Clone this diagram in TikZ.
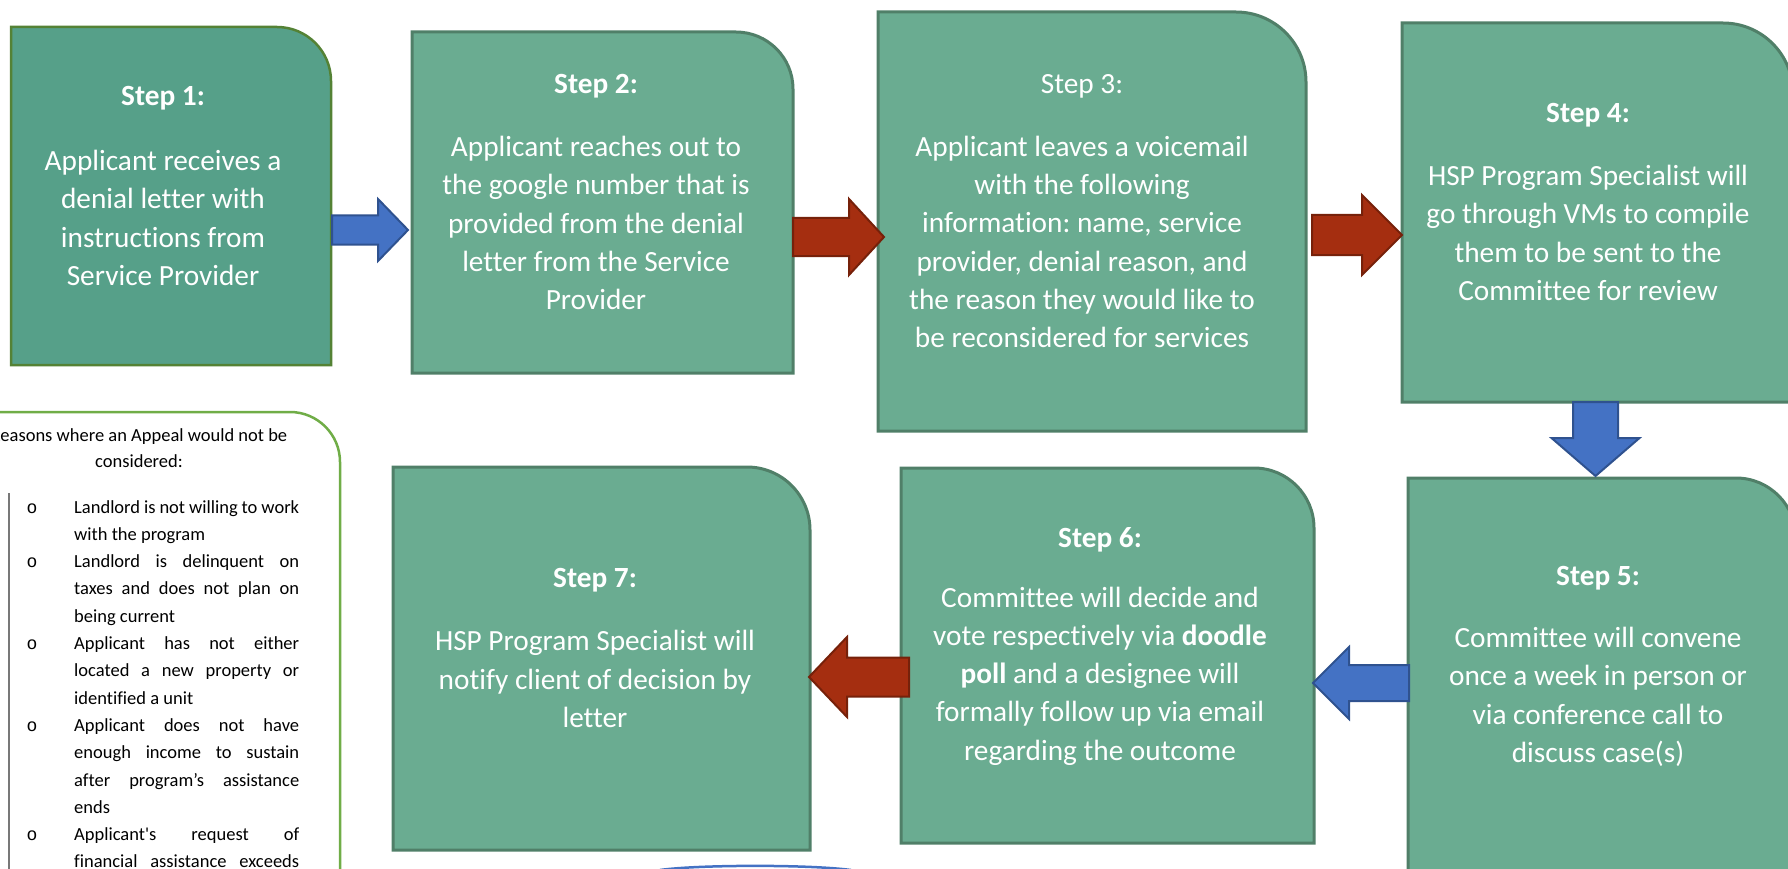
\documentclass[tikz,border=0pt]{standalone}
\usepackage{fontspec}
\setmainfont{Carlito}[Ligatures={TeX,NoCommon,NoRare,NoContextual}, RawFeature={-liga;-clig;-calt;-dlig}]
\newfontfamily\myMono{Liberation Mono}
\frenchspacing
\definecolor{stepfill}{RGB}{106,172,145}
\definecolor{stepline}{RGB}{80,127,104}
\definecolor{firstfill}{RGB}{86,160,137}
\definecolor{firstline}{RGB}{84,130,53}
\definecolor{arrblue}{RGB}{68,114,196}
\definecolor{arrblueline}{RGB}{47,82,143}
\definecolor{arrred}{RGB}{165,46,16}
\definecolor{arrredline}{RGB}{118,33,10}
\definecolor{reasongreen}{RGB}{112,173,71}
\definecolor{ruleGray}{RGB}{120,120,120}
% box with only the top-right corner rounded: #1 name, #2 style, #3 L, #4 T, #5 R, #6 B, #7 radius
\newcommand{\myBox}[7]{%
  \path[#2] (#3,#4) -- ({#5-#7},#4) .. controls ({#5-0.4477*#7},#4) and (#5,{#4+0.4477*#7}) .. (#5,{#4+#7}) -- (#5,#6) -- (#3,#6) -- cycle;
  \coordinate (#1) at ({(#3+#5)/2},{(#4+#6)/2});
  \coordinate (#1-w) at (#3,{(#4+#6)/2});
  \coordinate (#1-e) at (#5,{(#4+#6)/2});}
% horizontal block arrow: #1 name, #2 style, #3 tail x, #4 head base x, #5 tip x, #6 centre y, #7 shaft half, #8 head half
\newcommand{\myHArrow}[8]{%
  \path[#2] (#3,{#6-#7}) -- (#4,{#6-#7}) -- (#4,{#6-#8}) -- (#5,#6) -- (#4,{#6+#8}) -- (#4,{#6+#7}) -- (#3,{#6+#7}) -- cycle;
  \coordinate (#1) at (#5,#6);}
% vertical block arrow: #1 name, #2 style, #3 tail y, #4 head base y, #5 tip y, #6 centre x, #7 shaft half, #8 head half
\newcommand{\myVArrow}[8]{%
  \path[#2] ({#6-#7},#3) -- ({#6-#7},#4) -- ({#6-#8},#4) -- (#6,#5) -- ({#6+#8},#4) -- ({#6+#7},#4) -- ({#6+#7},#3) -- cycle;
  \coordinate (#1) at (#6,#5);}
\newcommand{\mySLine}[3]{\node[reasontext, anchor=base west] (#1) at (74,#2) {\makebox[225pt][s]{#3}};}
\newcommand{\myLLine}[3]{\node[reasontext, anchor=base west] (#1) at (74,#2) {#3};}
\newcommand{\myBullet}[2]{\node[bullettext, anchor=base] (#1) at (32,#2) {o};}
\begin{document}
\begin{tikzpicture}[x=1pt,y=-1pt,
  stepshape/.style={fill=stepfill, draw=stepline, line width=3pt},
  firstshape/.style={fill=firstfill, draw=firstline, line width=2.5pt},
  blueblock/.style={fill=arrblue, draw=arrblueline, line width=2pt},
  redblock/.style={fill=arrred, draw=arrredline, line width=2pt},
  reasonshape/.style={fill=white, draw=reasongreen, line width=2.5pt},
  steptitle/.style={text=white, inner sep=0pt, font=\fontsize{29.3}{38.3}\selectfont\bfseries},
  steptitleplain/.style={text=white, inner sep=0pt, font=\fontsize{29.3}{38.3}\selectfont},
  stepbody/.style={text=white, inner sep=0pt, align=center, font=\fontsize{29.3}{38.3}\selectfont},
  reasontext/.style={text=black, inner sep=0pt, font=\fontsize{18.5}{27.3}\selectfont},
  reasontitle/.style={text=black, inner sep=0pt, align=center, font=\fontsize{18.5}{26}\selectfont},
  bullettext/.style={text=black, inner sep=0pt, font=\myMono\fontsize{18}{27}\selectfont},
]
\useasboundingbox (0,0) rectangle (1788,869);
\clip (0,0) rectangle (1788,869);

% reasons panel
\path[reasonshape] (-20,890) -- (-20,412) -- (290,412) .. controls (317.6,412) and (340,434.4) .. (340,462) -- (340,890) -- cycle;
\coordinate (ruletop) at (9,493);
\coordinate (rulebot) at (9,880);
\draw[ruleGray, line width=1.5pt] (ruletop) -- (rulebot);
\node[reasontitle] (rtitle) at (139,448) {Reasons where an Appeal would not be\\considered:};

\myBullet{b1}{513}
\mySLine{l0}{513}{Landlord is not willing to work}
\myLLine{l1}{540.3}{with the program}
\myBullet{b2}{567.6}
\mySLine{l2}{567.6}{Landlord is delinquent on}
\mySLine{l3}{594.9}{taxes and does not plan on}
\myLLine{l4}{622.2}{being current}
\myBullet{b3}{649.5}
\mySLine{l5}{649.5}{Applicant has not either}
\mySLine{l6}{676.8}{located a new property or}
\myLLine{l7}{704.1}{identified a unit}
\myBullet{b4}{731.4}
\mySLine{l8}{731.4}{Applicant does not have}
\mySLine{l9}{758.7}{enough income to sustain}
\mySLine{l10}{786}{after program’s assistance}
\myLLine{l11}{813.3}{ends}
\myBullet{b5}{840.6}
\mySLine{l12}{840.6}{Applicant\textquotesingle s request of}
\mySLine{l13}{867.9}{financial assistance exceeds}

% step boxes
\myBox{s1}{firstshape}{11}{27}{331}{365}{54}
\myBox{s2}{stepshape}{412}{32}{793}{373}{57}
\myBox{s3}{stepshape}{878}{12}{1306}{431}{70}
\myBox{s4}{stepshape}{1402}{23}{1793}{402}{70}
\myBox{s5}{stepshape}{1408}{478}{1796}{900}{60}
\myBox{s6}{stepshape}{901}{468}{1314}{843}{60}
\myBox{s7}{stepshape}{393}{467}{810}{850}{63}

% block arrows
\myHArrow{a1}{blueblock}{332}{378}{408}{230}{14.5}{31}
\myHArrow{a2}{redblock}{793}{849}{884}{237}{19}{38}
\myHArrow{a3}{redblock}{1312}{1362}{1402}{235}{20}{40}
\myVArrow{a4}{blueblock}{402}{438}{476}{1595.5}{22.5}{44}
\myHArrow{a5}{blueblock}{1409}{1349}{1313}{683}{18}{36}
\myHArrow{a6}{redblock}{909}{847}{809}{677}{19.5}{40}

% step texts
\node[steptitle] (t1) at (163,98) {Step 1:};
\node[stepbody] (d1) at (163,218) {Applicant receives a\\denial letter with\\instructions from\\Service Provider};

\node[steptitle] (t2) at (596,86) {Step 2:};
\node[stepbody] (d2) at (596,223) {Applicant reaches out to\\the google number that is\\provided from the denial\\letter from the Service\\Provider};

\node[steptitleplain] (t3) at (1082,86) {Step 3:};
\node[stepbody] (d3) at (1082,242) {Applicant leaves a voicemail\\with the following\\information: name, service\\provider, denial reason, and\\the reason they would like to\\be reconsidered for services};

\node[steptitle] (t4) at (1588,115) {Step 4:};
\node[stepbody] (d4) at (1588,233) {HSP Program Specialist will\\go through VMs to compile\\them to be sent to the\\Committee for review};

\node[steptitle] (t5) at (1598,578) {Step 5:};
\node[stepbody] (d5) at (1598,697) {Committee will convene\\once a week in person or\\via conference call to\\discuss case(s)};

\node[steptitle] (t6) at (1100,540) {Step 6:};
\node[stepbody] (d6) at (1100,676) {Committee will decide and\\vote respectively via \textbf{doodle}\\\textbf{poll} and a designee will\\formally follow up via email\\regarding the outcome};

\node[steptitle] (t7) at (595,580) {Step 7:};
\node[stepbody] (d7) at (595,679) {HSP Program Specialist will\\notify client of decision by\\letter};

% partly visible shape at the bottom edge
\coordinate (ovl) at (660,870);
\coordinate (ovr) at (851,870);
\draw[arrblue, line width=2.5pt] (ovl) .. controls (700,864.5) and (810,864.5) .. (ovr);
\end{tikzpicture}
\end{document}
